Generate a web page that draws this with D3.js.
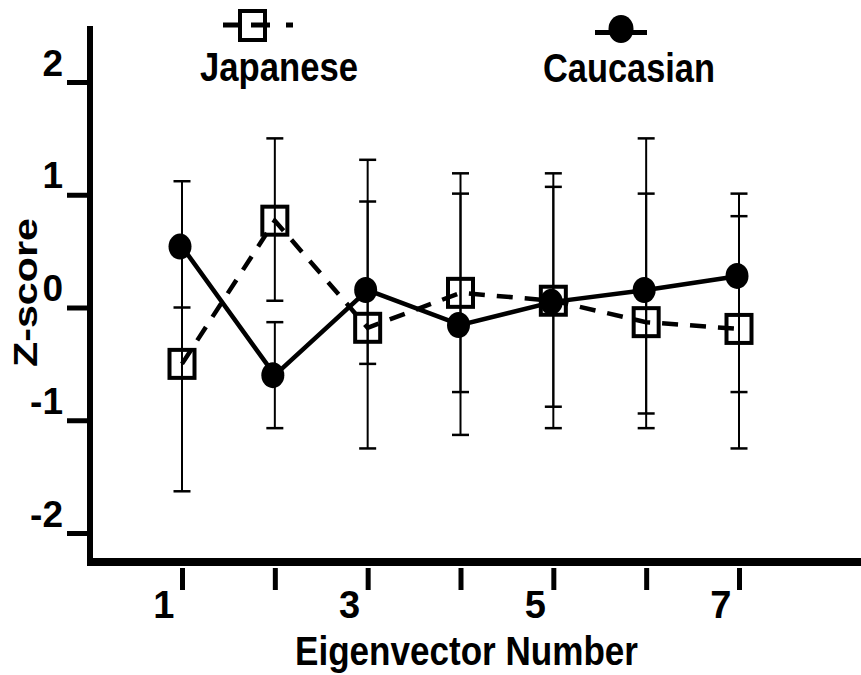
<!DOCTYPE html>
<html>
<head>
<meta charset="utf-8">
<script src="https://cdn.jsdelivr.net/npm/d3@7"></script>
<style>
  html, body { margin: 0; padding: 0; background: #fff; }
  svg { display: block; }
  text { font-family: "Liberation Sans Narrow", "Liberation Sans", Arial, sans-serif; font-weight: bold; fill: #000; }
</style>
</head>
<body>
<svg id="chart" width="861" height="675"></svg>
<script>
// ---- data ----
const eigenvectors = [1, 2, 3, 4, 5, 6, 7];
const xTickLabels = ["1", "", "3", "", "5", "", "7"];
const yTicks = [-2, -1, 0, 1, 2];

const caucasianMean  = [0.54, -0.60, 0.155, -0.155, 0.05, 0.155, 0.28];
const caucasianLow   = [0.00, -1.07, -0.50, -1.13, -1.07, -1.07, -0.75];
const caucasianHigh  = [1.12, -0.13, 0.94, 1.19, 1.19, 1.50, 1.01];

const japaneseMean   = [-0.50, 0.77, -0.18, 0.13, 0.06, -0.13, -0.19];
const japaneseLow    = [-1.63, 0.06, -1.25, -0.75, -0.88, -0.94, -1.25];
const japaneseHigh   = [0.54, 1.50, 1.31, 1.01, 1.07, 1.01, 0.81];

const seriesNames = ["Japanese", "Caucasian"];
const xTitle = "Eigenvector  Number";
const yTitle = "Z-score";

const FONT = "'Liberation Sans Narrow', 'Liberation Sans', Arial, sans-serif";

// ---- scales ----
const svg = d3.select("#chart");
const x = d3.scaleLinear().domain([1, 7]).range([182, 739]);
const y = d3.scaleLinear().domain([-2, 2]).range([533, 82]);

// ---- axes lines ----
svg.append("line").attr("x1", 90).attr("x2", 90).attr("y1", 26).attr("y2", 566)
  .attr("stroke", "#000").attr("stroke-width", 6);
svg.append("line").attr("x1", 87).attr("x2", 861).attr("y1", 562).attr("y2", 562)
  .attr("stroke", "#000").attr("stroke-width", 8);

// y axis ticks
const yAxis = svg.append("g").attr("transform", "translate(88,0)")
  .call(d3.axisLeft(y).tickValues(yTicks).tickSize(21).tickFormat(d3.format("d")));
yAxis.select(".domain").remove();
yAxis.selectAll(".tick line").attr("stroke", "#000").attr("stroke-width", 5);
yAxis.selectAll(".tick text")
  .attr("x", -25).attr("y", -7).attr("dy", 0)
  .style("font-size", "37px").style("font-family", FONT)
  .style("font-weight", "bold").attr("fill", "#000")
  .text(d => d < 0 ? "-" + Math.abs(d) : String(d));

// x axis ticks
const xAxis = svg.append("g").attr("transform", "translate(0,568)")
  .call(d3.axisBottom(x).tickValues(eigenvectors).tickSize(22)
    .tickFormat((d, i) => xTickLabels[i]));
xAxis.select(".domain").remove();
xAxis.selectAll(".tick line").attr("stroke", "#000").attr("stroke-width", 5);
xAxis.selectAll(".tick text")
  .attr("x", -8).attr("y", 50).attr("dy", 0).attr("text-anchor", "end")
  .style("font-size", "38px").style("font-family", FONT)
  .style("font-weight", "bold").attr("fill", "#000");

// ---- error bars ----
function errorBars(low, high) {
  const g = svg.append("g").attr("stroke", "#000");
  eigenvectors.forEach((e, i) => {
    const cx = x(e);
    g.append("line").attr("x1", cx).attr("x2", cx).attr("y1", y(low[i])).attr("y2", y(high[i]))
      .attr("stroke-width", 2);
    [low[i], high[i]].forEach(v => {
      g.append("line").attr("x1", cx - 8.5).attr("x2", cx + 8.5).attr("y1", y(v)).attr("y2", y(v))
        .attr("stroke-width", 2.5);
    });
  });
}
errorBars(japaneseLow, japaneseHigh);
errorBars(caucasianLow, caucasianHigh);

// ---- lines ----
const line = d3.line().x((d, i) => x(eigenvectors[i])).y(d => y(d));
svg.append("path").datum(japaneseMean).attr("d", line)
  .attr("fill", "none").attr("stroke", "#000").attr("stroke-width", 4.5)
  .attr("stroke-dasharray", "16,12");
svg.append("path").datum(caucasianMean).attr("d", line)
  .attr("fill", "none").attr("stroke", "#000").attr("stroke-width", 4.5);

// ---- markers ----
svg.append("g").selectAll("rect").data(japaneseMean).join("rect")
  .attr("x", (d, i) => x(eigenvectors[i]) - 12.5).attr("y", d => y(d) - 14)
  .attr("width", 25).attr("height", 28)
  .attr("fill", "none").attr("stroke", "#000").attr("stroke-width", 4);
svg.append("g").selectAll("ellipse").data(caucasianMean).join("ellipse")
  .attr("cx", (d, i) => x(eigenvectors[i]) - 2).attr("cy", d => y(d))
  .attr("rx", 11.5).attr("ry", 13).attr("fill", "#000");

// ---- legend ----
const lg = svg.append("g").attr("stroke", "#000");
lg.append("line").attr("x1", 223).attr("x2", 239).attr("y1", 25).attr("y2", 25).attr("stroke-width", 5);
lg.append("line").attr("x1", 251).attr("x2", 270).attr("y1", 25).attr("y2", 25).attr("stroke-width", 5);
lg.append("line").attr("x1", 286).attr("x2", 293).attr("y1", 25).attr("y2", 25).attr("stroke-width", 5);
lg.append("rect").attr("x", 240).attr("y", 11).attr("width", 25).attr("height", 29)
  .attr("fill", "none").attr("stroke-width", 4);
lg.append("line").attr("x1", 595).attr("x2", 647).attr("y1", 32.5).attr("y2", 32.5).attr("stroke-width", 5);
lg.append("ellipse").attr("cx", 621).attr("cy", 29).attr("rx", 12.5).attr("ry", 14).attr("fill", "#000").attr("stroke", "none");

svg.append("text").attr("x", 200).attr("y", 81).style("font-size", "40px")
  .attr("textLength", 158).attr("lengthAdjust", "spacingAndGlyphs").text(seriesNames[0]);
svg.append("text").attr("x", 543).attr("y", 82).style("font-size", "41px")
  .attr("textLength", 172).attr("lengthAdjust", "spacingAndGlyphs").text(seriesNames[1]);

// ---- titles ----
svg.append("text").attr("x", 295).attr("y", 665).style("font-size", "40px")
  .attr("textLength", 343).attr("lengthAdjust", "spacingAndGlyphs").text(xTitle);
svg.append("text").attr("transform", "translate(37,367) rotate(-90)")
  .style("font-size", "34px")
  .attr("textLength", 149).attr("lengthAdjust", "spacingAndGlyphs").text(yTitle);
</script>
</body>
</html>
